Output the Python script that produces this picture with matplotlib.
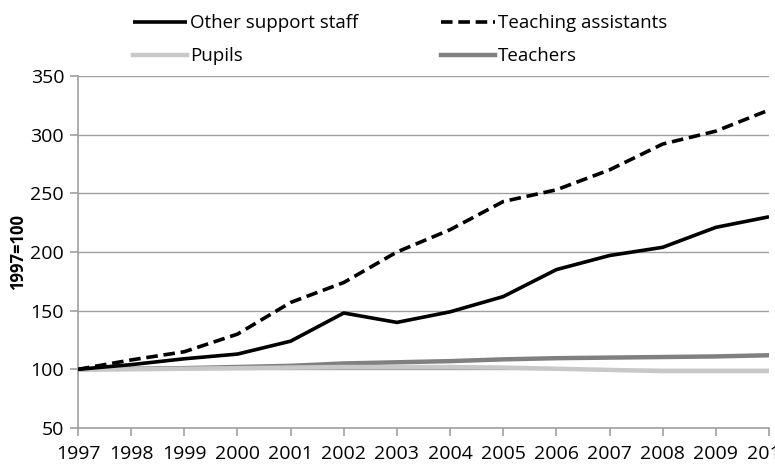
import matplotlib
matplotlib.use("Agg")
import matplotlib.pyplot as plt

years = list(range(1997, 2011))
other_support = [100, 104, 109, 113, 124, 148, 140, 149, 162, 185, 197, 204, 221, 230]
teaching_assistants = [100, 108, 115, 130, 157, 174, 200, 219, 243, 253, 270, 292, 303, 321]
pupils = [100, 100, 100.5, 101, 101.5, 102, 102, 102, 101.5, 100.5, 99.5, 98.5, 98.5, 98.5]
teachers = [100, 100.5, 101, 102, 103, 105, 106, 107, 108.5, 109.5, 110, 110.5, 111, 112]
yticks = [50, 100, 150, 200, 250, 300, 350]

plt.rcParams['font.family'] = ['Open Sans', 'DejaVu Sans']

fig = plt.figure(figsize=(7.75, 4.66), dpi=100)
ax = fig.add_axes([78/775, 1-428/466, (769-78)/775, (428-76)/466])

lw = 2.6
l_other, = ax.plot(years, other_support, color='black', lw=lw, label='Other support staff', solid_capstyle='butt')
l_ta, = ax.plot(years, teaching_assistants, color='black', lw=lw, ls=(0, (3.2, 1.6)), label='Teaching assistants')
l_teach, = ax.plot(years, teachers, color='#808080', lw=lw+0.6, label='Teachers')
l_pup, = ax.plot(years, pupils, color='#c8c8c8', lw=lw+0.6, label='Pupils')
l_teach.set_zorder(2); l_pup.set_zorder(2.1)
l_other.set_zorder(3); l_ta.set_zorder(3)

ax.set_xlim(1997, 2010)
ax.set_ylim(50, 350)
ax.set_xticks(years)
ax.set_xticklabels([str(y) for y in years])
ax.set_yticks(yticks)
ax.yaxis.grid(True, color='#a0a0a0', lw=1.0)
ax.set_axisbelow(True)
for s in ['top', 'right']:
    ax.spines[s].set_visible(False)
for s in ['left', 'bottom']:
    ax.spines[s].set_color('#a0a0a0')
    ax.spines[s].set_linewidth(1.2)
ax.tick_params(axis='both', colors='#a0a0a0', labelcolor='black', labelsize=14, length=6, width=1.2)
ax.tick_params(axis='x', pad=6)
ax.tick_params(axis='y', pad=4)
ax.set_ylabel('1997=100', fontsize=12, fontweight='bold')
ax.yaxis.set_label_coords((27 - 78) / 691, 0.5)

handles = [l_other, l_pup, l_ta, l_teach]
labels = [h.get_label() for h in handles]
fig.legend(handles, labels, ncol=2, loc='upper left', bbox_to_anchor=(116/775, 1.006),
           frameon=False, fontsize=13.5, handlelength=2.9, handletextpad=0.15,
           columnspacing=4.4, labelspacing=0.8)

fig.savefig('out.png', dpi=100)
